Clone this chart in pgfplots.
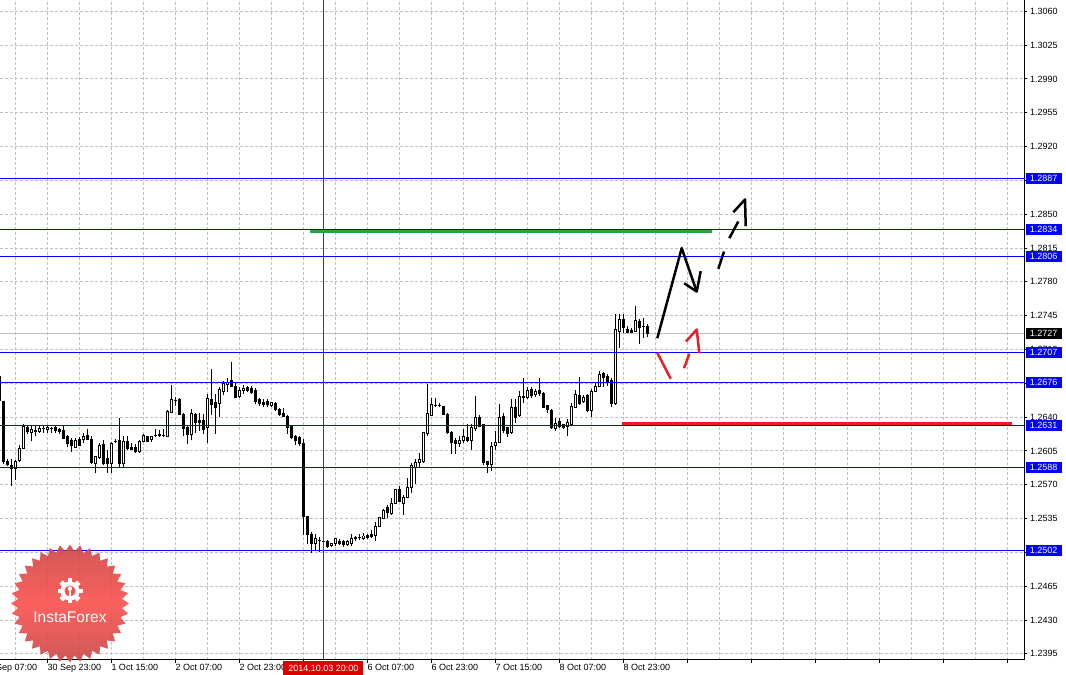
\documentclass[border=0pt]{standalone}
\usepackage{fontspec}
\setmainfont{Liberation Sans}
\usepackage{pgfplots}
\usepackage{pgfplotstable}
\pgfplotsset{compat=1.18}
\usetikzlibrary{shapes.geometric}

\definecolor{lvlblue}{RGB}{0,0,255}
\definecolor{gridgray}{RGB}{192,192,192}
\definecolor{mtred}{RGB}{235,30,40}
\definecolor{mtgreen}{RGB}{35,165,75}
\definecolor{xred}{RGB}{225,0,0}
\definecolor{logotop}{RGB}{205,68,68}
\definecolor{logomid}{RGB}{250,80,76}
\definecolor{logobot}{RGB}{200,70,70}

% H1 candles: index, open, high, low, close
\pgfplotstableread{
i o h l c
-1 1.2682 1.2686 1.2655 1.2657
0 1.2656 1.2657 1.2592 1.2594
1 1.2594 1.2597 1.2589 1.2591
2 1.2590 1.2597 1.2569 1.2587
3 1.2587 1.2596 1.2575 1.2594
4 1.2595 1.2611 1.2594 1.2608
5 1.2608 1.2633 1.2608 1.2630
6 1.2629 1.2632 1.2623 1.2625
7 1.2624 1.2631 1.2615 1.2627
8 1.2625 1.2631 1.2621 1.2626
9 1.2625 1.2632 1.2624 1.2628
10 1.2628 1.2631 1.2624 1.2628
11 1.2627 1.2631 1.2624 1.2629
12 1.2628 1.2630 1.2624 1.2628
13 1.2629 1.2631 1.2624 1.2626
14 1.2627 1.2629 1.2623 1.2625
15 1.2626 1.2631 1.2617 1.2618
16 1.2620 1.2622 1.2609 1.2613
17 1.2616 1.2618 1.2604 1.2611
18 1.2609 1.2618 1.2608 1.2616
19 1.2617 1.2619 1.2610 1.2611
20 1.2617 1.2624 1.2613 1.2620
21 1.2621 1.2628 1.2616 1.2617
22 1.2617 1.2620 1.2592 1.2593
23 1.2592 1.2599 1.2582 1.2599
24 1.2598 1.2613 1.2597 1.2611
25 1.2612 1.2616 1.2590 1.2592
26 1.2597 1.2606 1.2582 1.2592
27 1.2592 1.2614 1.2582 1.2613
28 1.2615 1.2617 1.2613 1.2615
29 1.2616 1.2639 1.2588 1.2592
30 1.2592 1.2620 1.2588 1.2615
31 1.2615 1.2620 1.2606 1.2608
32 1.2609 1.2613 1.2606 1.2607
33 1.2609 1.2612 1.2603 1.2604
34 1.2604 1.2616 1.2603 1.2615
35 1.2615 1.2623 1.2614 1.2621
36 1.2620 1.2621 1.2614 1.2615
37 1.2617 1.2621 1.2614 1.2620
38 1.2621 1.2628 1.2619 1.2621
39 1.2621 1.2627 1.2619 1.2622
40 1.2621 1.2628 1.2619 1.2621
41 1.2620 1.2647 1.2619 1.2646
42 1.2645 1.2673 1.2644 1.2658
43 1.2657 1.2661 1.2652 1.2657
44 1.2658 1.2660 1.2642 1.2643
45 1.2643 1.2644 1.2621 1.2628
46 1.2629 1.2631 1.2612 1.2622
47 1.2622 1.2648 1.2616 1.2644
48 1.2643 1.2644 1.2624 1.2634
49 1.2637 1.2644 1.2626 1.2634
50 1.2637 1.2643 1.2623 1.2627
51 1.2629 1.2664 1.2613 1.2659
52 1.2658 1.2690 1.2642 1.2653
53 1.2655 1.2664 1.2623 1.2650
54 1.2654 1.2671 1.2640 1.2669
55 1.2667 1.2677 1.2663 1.2675
56 1.2674 1.2680 1.2666 1.2676
57 1.2678 1.2697 1.2671 1.2672
58 1.2672 1.2675 1.2660 1.2660
59 1.2661 1.2671 1.2660 1.2668
60 1.2668 1.2673 1.2664 1.2670
61 1.2671 1.2672 1.2666 1.2668
62 1.2670 1.2672 1.2664 1.2666
63 1.2668 1.2670 1.2654 1.2656
64 1.2658 1.2660 1.2652 1.2654
65 1.2655 1.2659 1.2651 1.2653
66 1.2656 1.2659 1.2650 1.2653
67 1.2652 1.2656 1.2650 1.2655
68 1.2654 1.2656 1.2646 1.2648
69 1.2648 1.2649 1.2641 1.2643
70 1.2644 1.2649 1.2640 1.2641
71 1.2641 1.2642 1.2623 1.2629
72 1.2630 1.2631 1.2617 1.2619
73 1.2620 1.2622 1.2611 1.2616
74 1.2619 1.2621 1.2610 1.2613
75 1.2613 1.2617 1.2518 1.2537
76 1.2537 1.2538 1.2509 1.2519
77 1.2519 1.2521 1.2499 1.2509
78 1.2509 1.2519 1.2502 1.2514
79 1.2512 1.2516 1.2500 1.2512
80 1.2511 1.2514 1.2506 1.2511
81 1.2511 1.2513 1.2505 1.2506
82 1.2507 1.2510 1.2506 1.2509
83 1.2509 1.2515 1.2507 1.2514
84 1.2511 1.2514 1.2508 1.2509
85 1.2511 1.2513 1.2506 1.2508
86 1.2508 1.2513 1.2507 1.2511
87 1.2509 1.2519 1.2507 1.2514
88 1.2515 1.2517 1.2512 1.2514
89 1.2515 1.2519 1.2513 1.2515
90 1.2514 1.2520 1.2513 1.2517
91 1.2518 1.2519 1.2514 1.2515
92 1.2519 1.2523 1.2515 1.2516
93 1.2518 1.2531 1.2512 1.2527
94 1.2527 1.2537 1.2526 1.2536
95 1.2535 1.2545 1.2535 1.2543
96 1.2547 1.2549 1.2536 1.2541
97 1.2540 1.2556 1.2539 1.2551
98 1.2551 1.2566 1.2550 1.2565
99 1.2565 1.2569 1.2553 1.2553
100 1.2551 1.2559 1.2539 1.2557
101 1.2557 1.2577 1.2556 1.2567
102 1.2567 1.2593 1.2562 1.2590
103 1.2588 1.2597 1.2571 1.2593
104 1.2593 1.2603 1.2588 1.2596
105 1.2594 1.2625 1.2593 1.2624
106 1.2623 1.2674 1.2621 1.2644
107 1.2642 1.2660 1.2641 1.2653
108 1.2652 1.2660 1.2650 1.2652
109 1.2652 1.2655 1.2650 1.2652
110 1.2651 1.2652 1.2642 1.2643
111 1.2643 1.2644 1.2623 1.2624
112 1.2624 1.2626 1.2602 1.2614
113 1.2616 1.2618 1.2602 1.2613
114 1.2613 1.2621 1.2609 1.2616
115 1.2616 1.2628 1.2613 1.2620
116 1.2619 1.2633 1.2614 1.2616
117 1.2616 1.2633 1.2606 1.2629
118 1.2628 1.2662 1.2626 1.2640
119 1.2640 1.2642 1.2630 1.2630
120 1.2632 1.2633 1.2590 1.2593
121 1.2594 1.2595 1.2582 1.2591
122 1.2591 1.2614 1.2584 1.2610
123 1.2611 1.2626 1.2606 1.2614
124 1.2614 1.2654 1.2613 1.2640
125 1.2641 1.2644 1.2624 1.2626
126 1.2629 1.2630 1.2619 1.2623
127 1.2624 1.2659 1.2623 1.2650
128 1.2650 1.2659 1.2634 1.2640
129 1.2642 1.2667 1.2640 1.2661
130 1.2661 1.2680 1.2655 1.2660
131 1.2660 1.2671 1.2659 1.2668
132 1.2669 1.2671 1.2660 1.2662
133 1.2663 1.2669 1.2661 1.2667
134 1.2668 1.2681 1.2662 1.2664
135 1.2664 1.2666 1.2649 1.2650
136 1.2652 1.2653 1.2644 1.2648
137 1.2647 1.2648 1.2628 1.2629
138 1.2628 1.2639 1.2626 1.2633
139 1.2636 1.2639 1.2629 1.2630
140 1.2632 1.2633 1.2628 1.2629
141 1.2630 1.2638 1.2621 1.2634
142 1.2632 1.2655 1.2631 1.2651
143 1.2650 1.2668 1.2649 1.2663
144 1.2662 1.2682 1.2653 1.2654
145 1.2656 1.2663 1.2655 1.2660
146 1.2662 1.2664 1.2645 1.2647
147 1.2647 1.2669 1.2640 1.2667
148 1.2667 1.2675 1.2666 1.2672
149 1.2672 1.2688 1.2671 1.2684
150 1.2685 1.2687 1.2671 1.2681
151 1.2682 1.2685 1.2672 1.2676
152 1.2678 1.2680 1.2651 1.2654
153 1.2654 1.2747 1.2653 1.2731
154 1.2729 1.2747 1.2712 1.2741
155 1.2741 1.2747 1.2727 1.2733
156 1.2731 1.2734 1.2727 1.2728
157 1.2730 1.2732 1.2727 1.2728
158 1.2729 1.2755 1.2728 1.2740
159 1.2739 1.2742 1.2716 1.2733
160 1.2734 1.2743 1.2722 1.2734
161 1.2734 1.2736 1.2723 1.2727
}\candles

\tikzset{
  lbox/.style={anchor=west, fill=lvlblue, text=white, inner sep=0pt,
    minimum width=36bp, minimum height=11bp, xshift=1.5bp,
    font=\fontsize{9bp}{10bp}\selectfont},
  dlbl/.style={anchor=north west, inner sep=0pt, yshift=-4.5bp,
    font=\fontsize{9bp}{10bp}\selectfont},
}

\begin{document}
\begin{tikzpicture}
\useasboundingbox (0,0) rectangle (1066bp,675bp);
\begin{axis}[
  at={(0,15bp)}, anchor=south west,
  scale only axis, width=1024bp, height=660bp,
  xmin=-0.825, xmax=255.175,
  ymin=1.238866, ymax=1.307174,
  axis x line*=bottom, axis y line*=right,
  axis line style={black, line width=1bp},
  xtick={11,27,...,251},
  minor xtick={3,19,...,243},
  xticklabels={},
  ytick={1.2395,1.2430,1.2465,1.2500,1.2535,1.2570,1.2605,1.2640,1.2675,1.2710,
         1.2745,1.2780,1.2815,1.2850,1.2885,1.2920,1.2955,1.2990,1.3025,1.3060},
  scaled y ticks=false,
  yticklabel pos=right,
  tick align=outside,
  major tick length=3bp, minor tick length=0pt,
  tick style={black, line width=1bp},
  grid=both,
  major grid style={gridgray, dash pattern=on 3bp off 2bp, line width=1bp},
  minor grid style={gridgray, dash pattern=on 3bp off 2bp, line width=1bp},
  yticklabel style={anchor=west, inner sep=0pt, xshift=3bp,
    font=\fontsize{9bp}{10bp}\selectfont,
    /pgf/number format/.cd, fixed, fixed zerofill, precision=4, assume math mode=true},
]
% bid line
\addplot[gridgray, line width=1bp, forget plot] coordinates {(-5,1.2727) (260,1.2727)};

% wicks
\addplot[draw=none, mark=none, forget plot,
  error bars/.cd, y dir=plus, y explicit, error mark=none,
  error bar style={draw=black, line width=1bp}]
  table[x=i, y=l, y error expr=\thisrow{h}-\thisrow{l}] {\candles};
% bodies
\addplot[draw=none, mark=none, forget plot,
  error bars/.cd, y dir=plus, y explicit, error mark=none,
  error bar style={draw=black, line width=3bp, line cap=butt}]
  table[x=i, y expr={min(\thisrow{o},\thisrow{c})-0.00005},
        y error expr={abs(\thisrow{o}-\thisrow{c})+0.0001}] {\candles};
% hollow bull bodies
\addplot[draw=none, mark=none, forget plot,
  error bars/.cd, y dir=plus, y explicit, error mark=none,
  error bar style={draw=white, line width=1bp, line cap=butt}]
  table[x=i, y expr={\thisrow{o}+0.00005},
        y error expr={max(\thisrow{c}-\thisrow{o}-0.0001,0)}] {\candles};

% horizontal levels
\addplot[lvlblue, line width=1bp] coordinates {(-5,1.2887) (260,1.2887)};
\addplot[lvlblue, line width=1bp] coordinates {(-5,1.2834) (260,1.2834)};
\addplot[lvlblue, line width=1bp] coordinates {(-5,1.2806) (260,1.2806)};
\addplot[lvlblue, line width=1bp] coordinates {(-5,1.2707) (260,1.2707)};
\addplot[lvlblue, line width=1bp] coordinates {(-5,1.2676) (260,1.2676)};
\addplot[lvlblue, line width=1bp] coordinates {(-5,1.2631) (260,1.2631)};
\addplot[lvlblue, line width=1bp] coordinates {(-5,1.2588) (260,1.2588)};
\addplot[lvlblue, line width=1bp] coordinates {(-5,1.2502) (260,1.2502)};

% crosshair
\addplot[xred, line width=1bp] coordinates {(80,1.23) (80,1.31)};

% target segments
\addplot[mtgreen, line width=3.5bp] coordinates {(76.7,1.2832) (177.1,1.2832)};
\addplot[mtred, line width=3bp] coordinates {(154.75,1.2633) (252.1,1.2633)};

% forecast arrows
\draw[black, line width=2.5bp, line join=round]
  (axis cs:163.5,1.27217) -- (axis cs:169.6,1.28149) -- (axis cs:173.35,1.27700);
\draw[black, line width=2.5bp, line join=round]
  (axis cs:170.2,1.27786) -- (axis cs:173.35,1.27700) -- (axis cs:174.35,1.27911);
\draw[black, line width=2.5bp] (axis cs:178.75,1.27935) -- (axis cs:180.18,1.28114);
\draw[black, line width=2.5bp] (axis cs:181.5,1.28252) -- (axis cs:183.75,1.28425);
\draw[black, line width=2.5bp, line join=round]
  (axis cs:182.5,1.28521) -- (axis cs:185.43,1.28653) -- (axis cs:185.6,1.28376);
\draw[mtred, line width=2.5bp] (axis cs:163.5,1.27066) -- (axis cs:166.85,1.26797);
\draw[mtred, line width=2.5bp] (axis cs:170.18,1.26907) -- (axis cs:171.5,1.27056);
\draw[mtred, line width=2.5bp, line join=round]
  (axis cs:170.68,1.27183) -- (axis cs:173.35,1.27307) -- (axis cs:174.0,1.27062);

% anchors for the labels outside the plot
\coordinate (b2887) at (axis cs:255.175,1.2887);
\coordinate (b2834) at (axis cs:255.175,1.2834);
\coordinate (b2806) at (axis cs:255.175,1.2806);
\coordinate (b2727) at (axis cs:255.175,1.2727);
\coordinate (b2707) at (axis cs:255.175,1.2707);
\coordinate (b2676) at (axis cs:255.175,1.2676);
\coordinate (b2631) at (axis cs:255.175,1.2631);
\coordinate (b2588) at (axis cs:255.175,1.2588);
\coordinate (b2502) at (axis cs:255.175,1.2502);
\coordinate (cx) at (axis cs:80,1.238866);
\coordinate (d0) at (axis cs:-5,1.238866);
\coordinate (d1) at (axis cs:11,1.238866);
\coordinate (d2) at (axis cs:27,1.238866);
\coordinate (d3) at (axis cs:43,1.238866);
\coordinate (d4) at (axis cs:59,1.238866);
\coordinate (d6) at (axis cs:91,1.238866);
\coordinate (d7) at (axis cs:107,1.238866);
\coordinate (d8) at (axis cs:123,1.238866);
\coordinate (d9) at (axis cs:139,1.238866);
\coordinate (d10) at (axis cs:155,1.238866);
\end{axis}

% price boxes
\node[lbox] at (b2887) {1.2887};
\node[lbox] at (b2834) {1.2834};
\node[lbox] at (b2806) {1.2806};
\node[lbox, fill=black] at (b2727) {1.2727};
\node[lbox] at (b2707) {1.2707};
\node[lbox] at (b2676) {1.2676};
\node[lbox] at (b2631) {1.2631};
\node[lbox] at (b2588) {1.2588};
\node[lbox] at (b2502) {1.2502};

% time labels
\node[dlbl] at (d0) {30 Sep 07:00};
\node[dlbl] at (d1) {30 Sep 23:00};
\node[dlbl] at (d2) {1 Oct 15:00};
\node[dlbl] at (d3) {2 Oct 07:00};
\node[dlbl] at (d4) {2 Oct 23:00};
\node[dlbl] at (d6) {6 Oct 07:00};
\node[dlbl] at (d7) {6 Oct 23:00};
\node[dlbl] at (d8) {7 Oct 15:00};
\node[dlbl] at (d9) {8 Oct 07:00};
\node[dlbl] at (d10) {8 Oct 23:00};
\node[anchor=north, fill=xred, text=white, inner sep=0pt, minimum width=80bp,
  minimum height=14bp, yshift=-1bp, font=\fontsize{9bp}{10bp}\selectfont]
  at (cx) {2014.10.03 20:00};

% logo
\begin{scope}[x=1bp, y=-1bp, shift={(0,675bp)}]
\node[star, star points=36, star point ratio=1.13, minimum size=118bp, inner sep=0pt,
  draw=none, top color=logotop, bottom color=logobot, middle color=logomid,
  opacity=0.9] at (70,603.5) {};
\foreach \a in {0,45,...,315}
  \fill[white, rotate around={\a:(70,591)}] (67.6,578.5) rectangle (72.4,583);
\fill[white] (70,591) circle (9.5bp);
\fill[logomid] (70,591) circle (5.5bp);
\fill[white] (70,588.5) circle (2.2bp);
\fill[white] (68.9,590) rectangle (71.1,601);
\node[text=white, font=\fontsize{15.5bp}{17bp}\selectfont] at (70,617.5) {InstaForex};
\end{scope}
\end{tikzpicture}
\end{document}
